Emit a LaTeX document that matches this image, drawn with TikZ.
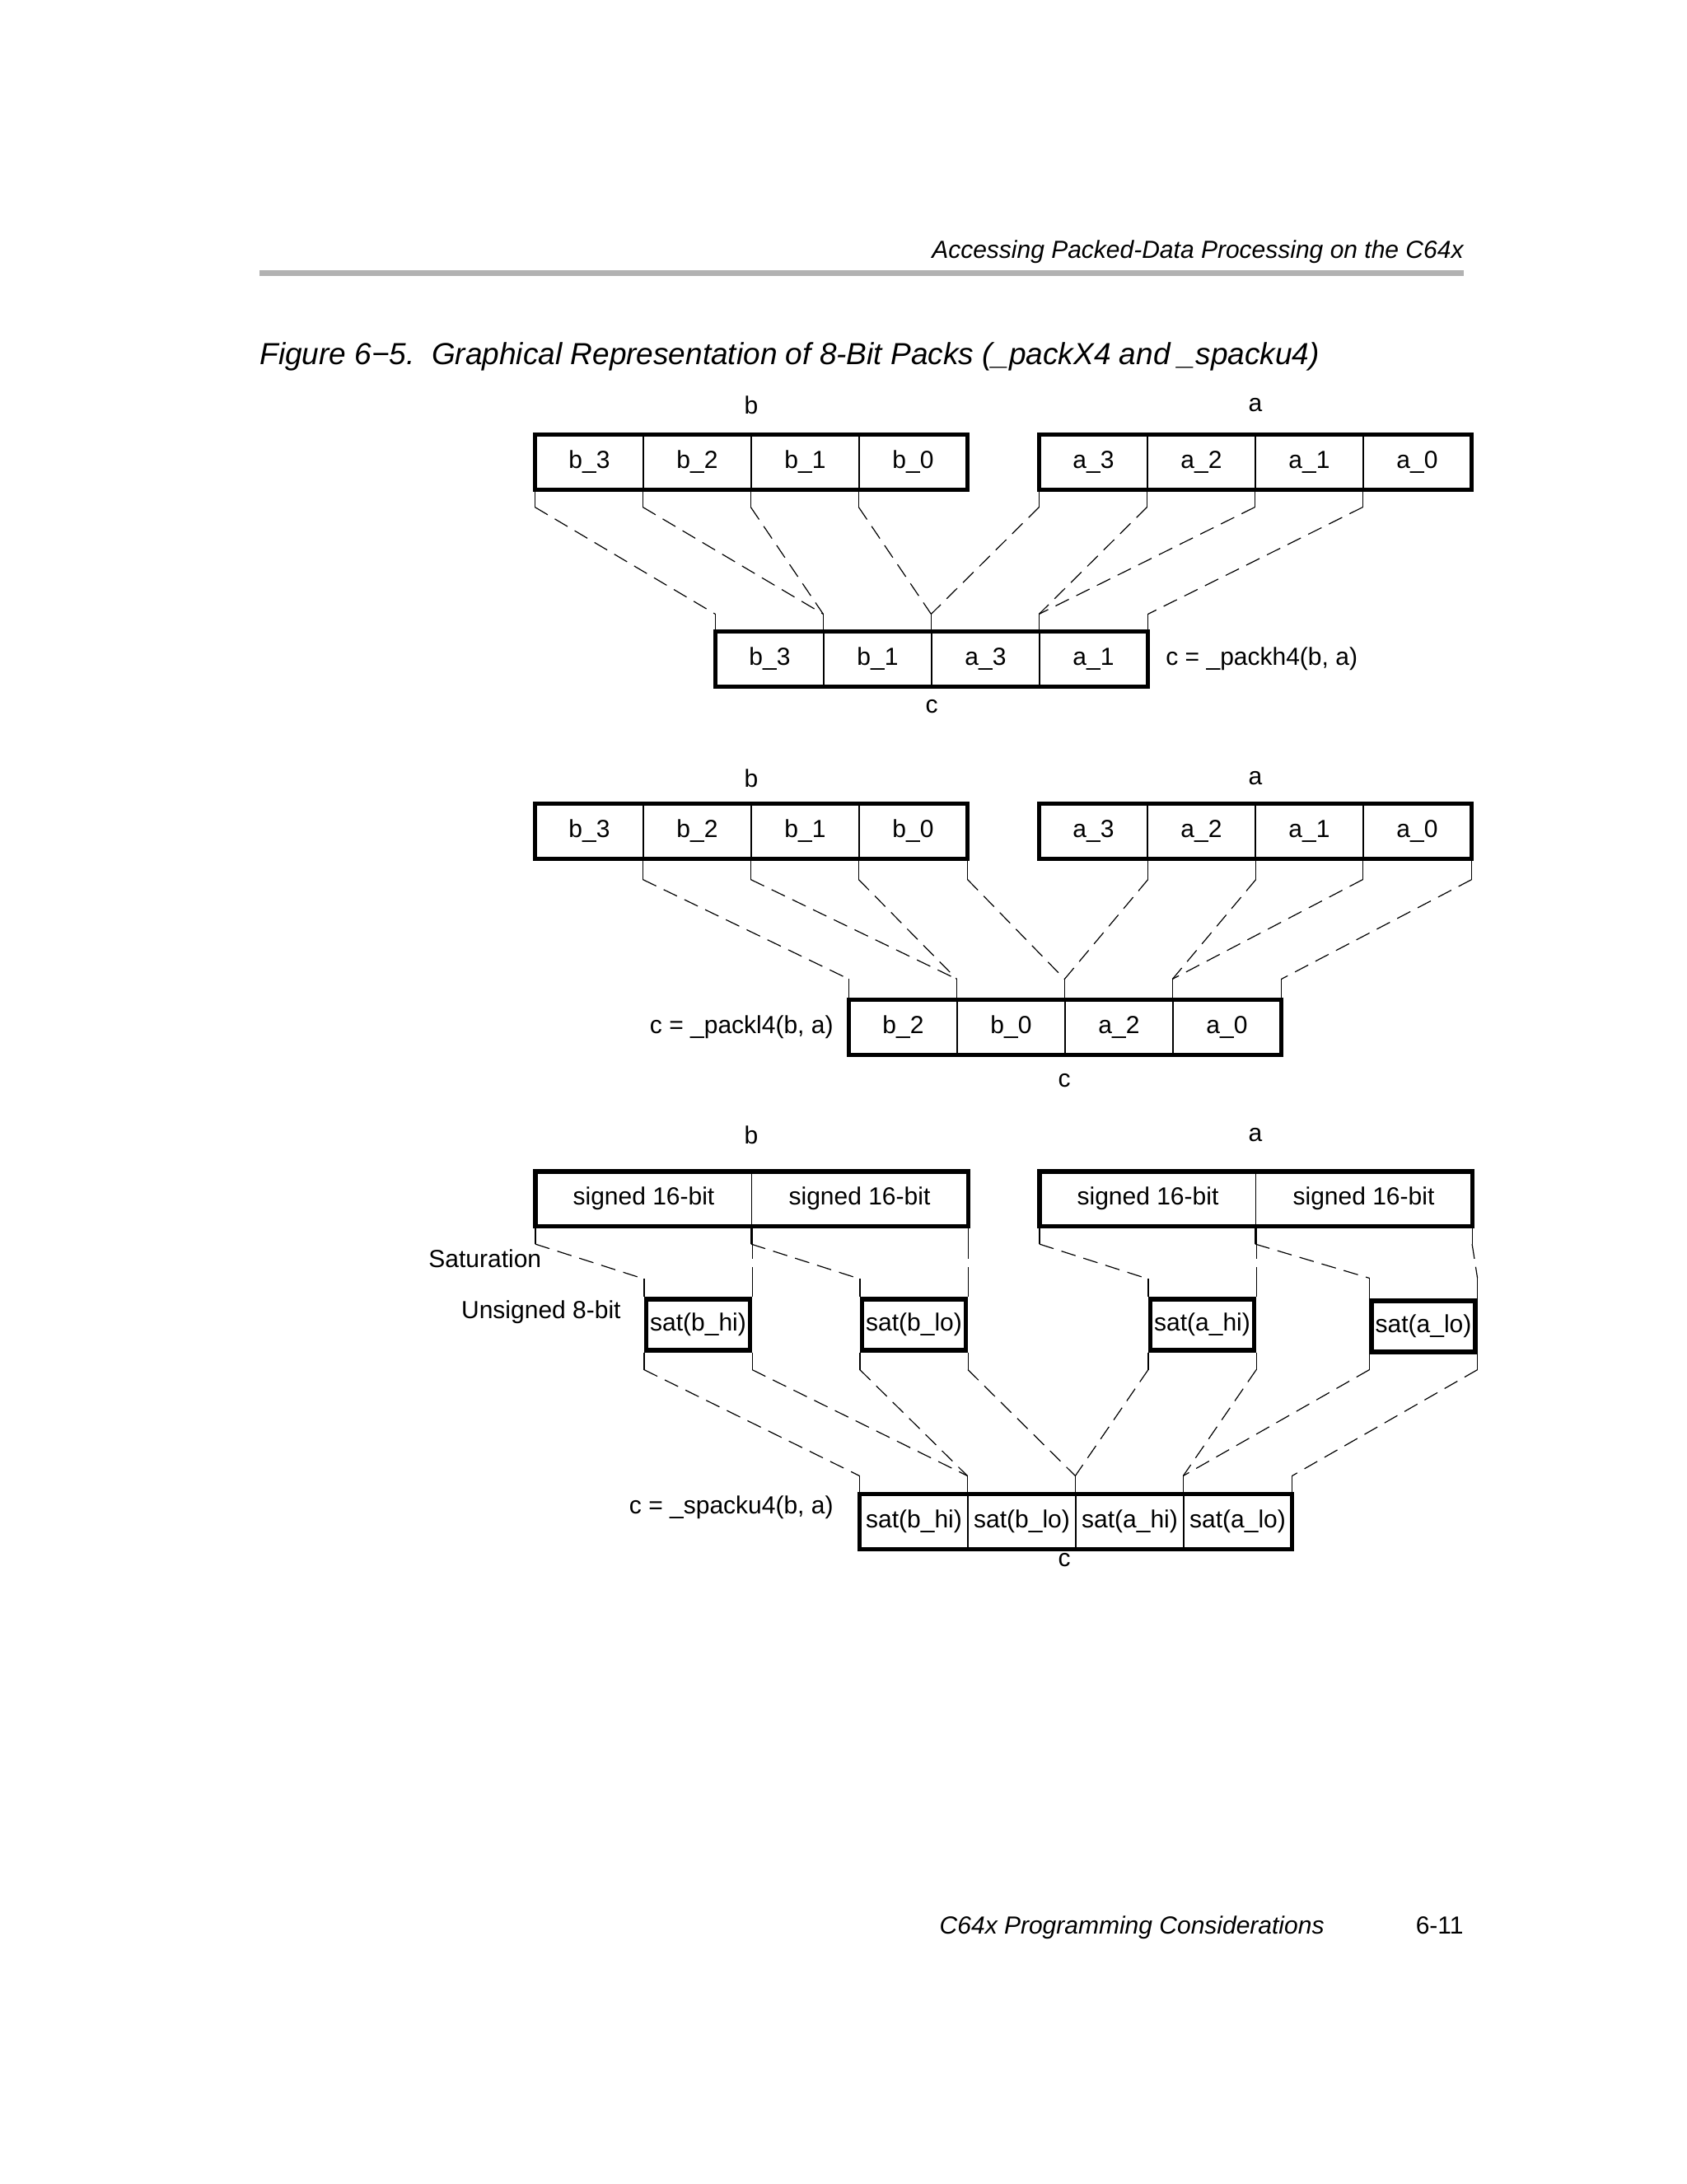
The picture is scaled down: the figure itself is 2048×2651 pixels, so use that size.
\documentclass[tikz,border=0pt]{standalone}
\usepackage{fontspec}
\setmainfont{Liberation Sans}
\usetikzlibrary{calc}
\tikzset{
  cellA/.style={draw,line width=0.6pt,inner sep=0pt,minimum width=65.5pt,minimum height=33pt,font=\fontsize{15}{18}\selectfont},
  cellW/.style={cellA,minimum width=131pt,minimum height=32.5pt},
  outer/.style={draw,line width=2.6pt},
  thinl/.style={line width=0.6pt},
  dashl/.style={line width=0.6pt,dash pattern=on 9pt off 5pt},
  lbl/.style={font=\fontsize{15}{18}\selectfont,inner sep=0pt},
}
\newcommand{\conn}[4]{%
  \draw[thinl] (#1) -- ($(#1)+(0,#3)$);
  \draw[dashl] ($(#1)+(0,#3)$) -- ($(#2)-(0,#4)$);
  \draw[thinl] ($(#2)-(0,#4)$) -- (#2);}
\begin{document}
\begin{tikzpicture}[x=0.5pt,y=-0.5pt]
\useasboundingbox (0,0) rectangle (2048,2651);
% header
\node[anchor=base east,inner sep=0pt,font=\fontsize{15}{18}\selectfont\itshape] (hdr) at (1777,313) {Accessing Packed-Data Processing on the C64x};
\fill[black!30] (315,328) rectangle (1777,335);
\node[anchor=base west,inner sep=0pt,font=\fontsize{18.5}{22}\selectfont\itshape] (ttl) at (315,442) {Figure 6\textminus5.\ \ Graphical Representation of 8-Bit Packs (\_packX4 and \_spacku4)};
\node[anchor=base east,inner sep=0pt,font=\fontsize{15}{18}\selectfont\itshape] (ftr) at (1608,2347) {C64x Programming Considerations};
\node[anchor=base east,inner sep=0pt,font=\fontsize{15}{18}\selectfont] (pg) at (1777,2347) {6-11};

% ===== Diagram 1 =====
\node[lbl] (lb1) at (912,492) {b};
\node[lbl] (la1) at (1524,492) {a};
\foreach \n/\t/\x in {b3/b\_3/715.5,b2/b\_2/846.5,b1/b\_1/977.5,b0/b\_0/1108.5}
  \node[cellA] (A\n) at (\x,561) {\raisebox{2pt}{\t}};
\foreach \n/\t/\x in {a3/a\_3/1327.5,a2/a\_2/1458.5,a1/a\_1/1589.5,a0/a\_0/1720.5}
  \node[cellA] (A\n) at (\x,561) {\raisebox{-2pt}{\t}};
\draw[outer] (Ab3.north west) rectangle (Ab0.south east);
\draw[outer] (Aa3.north west) rectangle (Aa0.south east);
\foreach \n/\t/\x in {c1/b\_3/934.5,c2/b\_1/1065.5,c3/a\_3/1196.5,c4/a\_1/1327.5}
  \node[cellA] (A\n) at (\x,800) {\t};
\draw[outer] (Ac1.north west) rectangle (Ac4.south east);
\node[lbl,anchor=west] (lc1) at (1415,800) {c = \_packh4(b, a)};
\node[lbl] (cc1) at (1131,858) {c};
\conn{Ab3.south west}{Ac1.north west}{21}{21}
\conn{Ab2.south west}{Ac2.north west}{21}{21}
\conn{Ab1.south west}{Ac2.north west}{21}{21}
\conn{Ab0.south west}{Ac3.north west}{21}{21}
\conn{Aa3.south west}{Ac3.north west}{21}{21}
\conn{Aa2.south west}{Ac4.north west}{21}{21}
\conn{Aa1.south west}{Ac4.north west}{21}{21}
\conn{Aa0.south west}{Ac4.north east}{21}{21}

% ===== Diagram 2 =====
\node[lbl] (lb2) at (912,945) {b};
\node[lbl] (la2) at (1524,945) {a};
\foreach \n/\t/\x in {b3/b\_3/715.5,b2/b\_2/846.5,b1/b\_1/977.5,b0/b\_0/1108.5,a3/a\_3/1327.5,a2/a\_2/1458.5,a1/a\_1/1589.5,a0/a\_0/1720.5}
  \node[cellA] (B\n) at (\x,1009) {\t};
\draw[outer] (Bb3.north west) rectangle (Bb0.south east);
\draw[outer] (Ba3.north west) rectangle (Ba0.south east);
\foreach \n/\t/\x in {c1/b\_2/1096.5,c2/b\_0/1227.5,c3/a\_2/1358.5,c4/a\_0/1489.5}
  \node[cellA] (B\n) at (\x,1247) {\t};
\draw[outer] (Bc1.north west) rectangle (Bc4.south east);
\node[lbl,anchor=east] (lc2) at (1012,1247) {c = \_packl4(b, a)};
\node[lbl] (cc2) at (1292,1312) {c};
\conn{Bb2.south west}{Bc1.north west}{25}{25}
\conn{Bb1.south west}{Bc2.north west}{25}{25}
\conn{Bb0.south west}{Bc2.north west}{25}{25}
\conn{Bb0.south east}{Bc3.north west}{25}{25}
\conn{Ba3.south east}{Bc3.north west}{25}{25}
\conn{Ba2.south east}{Bc4.north west}{25}{25}
\conn{Ba0.south west}{Bc4.north west}{25}{25}
\conn{Ba0.south east}{Bc4.north east}{25}{25}

% ===== Diagram 3 =====
\node[lbl] (lb3) at (912,1378) {b};
\node[lbl] (la3) at (1524,1378) {a};
\foreach \n/\x in {b1/781.5,b2/1043.5,a1/1393.5,a2/1655.5}
  \node[cellW] (C\n) at (\x,1455) {signed 16-bit};
\draw[outer] (Cb1.north west) rectangle (Cb2.south east);
\draw[outer] (Ca1.north west) rectangle (Ca2.south east);
\node[cellA,line width=2.6pt,minimum width=63pt,minimum height=31pt] (Sbh) at (847.5,1608) {sat(b\_hi)};
\node[cellA,line width=2.6pt,minimum width=63pt,minimum height=31pt] (Sbl) at (1109.5,1608) {sat(b\_lo)};
\node[cellA,line width=2.6pt,minimum width=63pt,minimum height=31pt] (Sah) at (1459.5,1608) {sat(a\_hi)};
\node[cellA,line width=2.6pt,minimum width=63pt,minimum height=31pt] (Sal) at (1728,1610) {sat(a\_lo)};
\node[lbl,anchor=west] (sat) at (520,1528) {Saturation};
\node[lbl,anchor=east] (u8) at (754,1593) {Unsigned 8-bit};
\foreach \n/\t/\x in {c1/sat(b\_hi)/1109.5,c2/sat(b\_lo)/1240.5,c3/sat(a\_hi)/1371.5,c4/sat(a\_lo)/1502.5}
  \node[cellA] (C\n) at (\x,1847) {\t};
\draw[outer] (Cc1.north west) rectangle (Cc4.south east);
\node[lbl,anchor=east] (lc3) at (1012,1830) {c = \_spacku4(b, a)};
\node[lbl] (cc3) at (1292,1894) {c};
\conn{Cb1.south west}{Sbh.north west}{22}{22}
\conn{Cb1.south east}{Sbh.north east}{22}{22}
\conn{Cb2.south west}{Sbl.north west}{22}{22}
\conn{Cb2.south east}{Sbl.north east}{22}{22}
\conn{Ca1.south west}{Sah.north west}{22}{22}
\conn{Ca1.south east}{Sah.north east}{22}{22}
\conn{Ca2.south west}{Sal.north west}{22}{25}
\conn{Ca2.south east}{Sal.north east}{22}{25}
\conn{Sbh.south west}{Cc1.north west}{21}{22}
\conn{Sbh.south east}{Cc2.north west}{21}{22}
\conn{Sbl.south west}{Cc2.north west}{21}{22}
\conn{Sbl.south east}{Cc3.north west}{21}{22}
\conn{Sah.south west}{Cc3.north west}{21}{22}
\conn{Sah.south east}{Cc4.north west}{21}{22}
\conn{Sal.south west}{Cc4.north west}{19}{22}
\conn{Sal.south east}{Cc4.north east}{19}{22}
\end{tikzpicture}
\end{document}
